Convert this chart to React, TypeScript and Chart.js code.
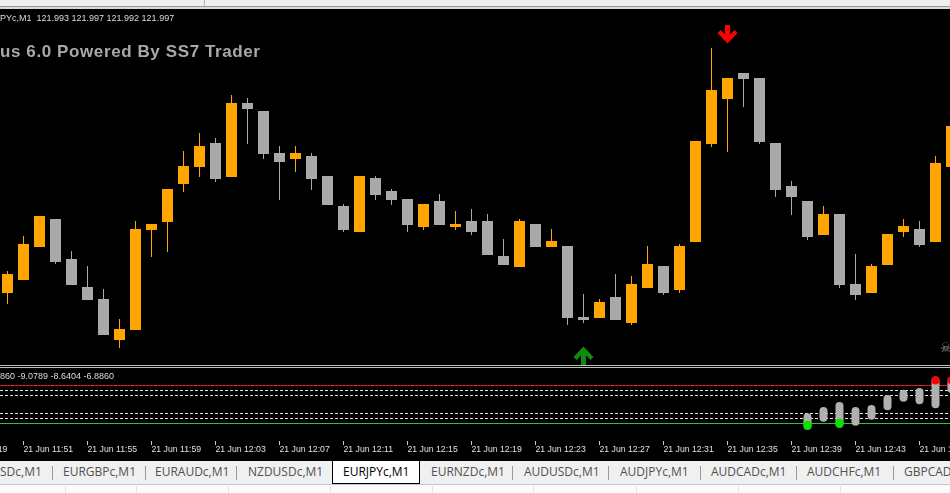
import React, { useEffect, useRef } from 'react';
import { Chart, registerables } from 'chart.js';

Chart.register(...registerables);

// ---------------- data ----------------
const barTimes = [
  '11:50', '11:51', '11:52', '11:53', '11:54', '11:55', '11:56', '11:57', '11:58', '11:59',
  '12:00', '12:01', '12:02', '12:03', '12:04', '12:05', '12:06', '12:07', '12:08', '12:09',
  '12:10', '12:11', '12:12', '12:13', '12:14', '12:15', '12:16', '12:17', '12:18', '12:19',
  '12:20', '12:21', '12:22', '12:23', '12:24', '12:25', '12:26', '12:27', '12:28', '12:29',
  '12:30', '12:31', '12:32', '12:33', '12:34', '12:35', '12:36', '12:37', '12:38', '12:39',
  '12:40', '12:41', '12:42', '12:43', '12:44', '12:45', '12:46', '12:47', '12:48', '12:49',
];

const opens = [
  121.823, 121.836, 121.869, 121.897, 121.857, 121.829, 121.817, 121.776, 121.786, 121.886,
  121.894, 121.932, 121.949, 121.973, 121.939, 122.013, 122.005, 121.963, 121.957, 121.960,
  121.940, 121.910, 121.884, 121.938, 121.925, 121.917, 121.889, 121.915, 121.889, 121.895,
  121.895, 121.860, 121.849, 121.892, 121.869, 121.870, 121.799, 121.798, 121.819, 121.793,
  121.828, 121.850, 121.826, 121.874, 121.972, 122.017, 122.043, 122.038, 121.973, 121.930,
  121.915, 121.881, 121.902, 121.832, 121.823, 121.851, 121.884, 121.887, 121.874, 121.949,
];
const highs = [
  121.845, 121.880, 121.900, 121.897, 121.865, 121.850, 121.827, 121.797, 121.895, 121.892,
  121.927, 121.965, 121.983, 121.978, 122.021, 122.018, 122.005, 121.970, 121.970, 121.963,
  121.940, 121.912, 121.940, 121.940, 121.927, 121.917, 121.912, 121.922, 121.905, 121.907,
  121.902, 121.877, 121.897, 121.892, 121.887, 121.870, 121.822, 121.817, 121.842, 121.840,
  121.870, 121.850, 121.872, 121.975, 122.068, 122.038, 122.043, 122.038, 121.973, 121.935,
  121.915, 121.910, 121.902, 121.862, 121.852, 121.882, 121.897, 121.895, 121.960, 121.992,
];
const lows = [
  121.812, 121.836, 121.869, 121.852, 121.831, 121.816, 121.781, 121.768, 121.786, 121.859,
  121.864, 121.924, 121.939, 121.934, 121.939, 121.972, 121.957, 121.916, 121.944, 121.926,
  121.911, 121.884, 121.884, 121.916, 121.911, 121.884, 121.886, 121.891, 121.886, 121.881,
  121.861, 121.851, 121.849, 121.869, 121.869, 121.791, 121.793, 121.798, 121.796, 121.791,
  121.828, 121.821, 121.823, 121.874, 121.969, 121.964, 122.009, 121.972, 121.919, 121.901,
  121.876, 121.881, 121.828, 121.816, 121.823, 121.851, 121.879, 121.869, 121.874, 121.949,
];
const closes = [
  121.842, 121.872, 121.900, 121.854, 121.831, 121.816, 121.781, 121.787, 121.887, 121.892,
  121.927, 121.950, 121.970, 121.937, 122.013, 122.007, 121.962, 121.954, 121.963, 121.937,
  121.911, 121.886, 121.940, 121.921, 121.916, 121.891, 121.912, 121.891, 121.892, 121.884,
  121.861, 121.851, 121.895, 121.869, 121.875, 121.798, 121.796, 121.814, 121.796, 121.832,
  121.852, 121.823, 121.870, 121.975, 122.026, 122.038, 122.037, 121.974, 121.926, 121.919,
  121.879, 121.902, 121.831, 121.821, 121.850, 121.882, 121.890, 121.871, 121.953, 121.990,
];

// signal arrows of the main window
const sellArrowTimes = ['12:35'];
const sellArrowPrices = [122.0815];
const buyArrowTimes = ['12:26'];
const buyArrowPrices = [121.762];

// sub-window indicator
const indTimes = ['12:40', '12:41', '12:42', '12:43', '12:44', '12:45', '12:46', '12:47', '12:48', '12:49'];
const indHigh = [-4.4, -1.25, 1.25, -1.25, -0.25, 4.75, 7.4, 8.3, 14.0, 14.0];
const indLow = [-12.6, -8.6, -11.6, -10.6, -7.6, -2.9, 1.4, 0.1, -1.9, 5.75];
const buySignalTimes = ['12:40', '12:42'];
const sellSignalTimes = ['12:48', '12:49'];
const levelRed = [9.5];
const levelDashed = [7, 4.5, -4.5, -7];
const levelGreen = [-9.5];

// time axis
const tickTimes = ['11:47', '11:51', '11:55', '11:59', '12:03', '12:07', '12:11', '12:15',
  '12:19', '12:23', '12:27', '12:31', '12:35', '12:39', '12:43', '12:47'];
const tickLabels = ['21 Jun 2019', '21 Jun 11:51', '21 Jun 11:55', '21 Jun 11:59', '21 Jun 12:03',
  '21 Jun 12:07', '21 Jun 12:11', '21 Jun 12:15', '21 Jun 12:19', '21 Jun 12:23', '21 Jun 12:27',
  '21 Jun 12:31', '21 Jun 12:35', '21 Jun 12:39', '21 Jun 12:43', '21 Jun 12:47'];

const headerText = 'PYc,M1  121.993 121.997 121.992 121.997';
const titleText = 'us 6.0 Powered By SS7 Trader';
const indHeaderText = '860 -9.0789 -8.6404 -6.8860';
const tabLabels = ['SDc,M1', 'EURGBPc,M1', 'EURAUDc,M1', 'NZDUSDc,M1', 'EURJPYc,M1', 'EURNZDc,M1',
  'AUDUSDc,M1', 'AUDJPYc,M1', 'AUDCADc,M1', 'AUDCHFc,M1', 'GBPCADc,M1'];
const activeTab = 'EURJPYc,M1';

// ---------------- view settings ----------------
const W = 950;
const MAIN_H = 355;
const IND_H = 93;
const PX_PER_BAR = 16;
const toMin = (t: string) => {
  const [h, m] = t.split(':').map(Number);
  return h * 60 + m;
};
const X_MIN = toMin(barTimes[0]) - 7.5 / PX_PER_BAR;
const X_MAX = X_MIN + W / PX_PER_BAR;
const PRICE_MAX = 122.106;
const PRICE_MIN = PRICE_MAX - MAIN_H / 1000;
const IND_MAX = 18.25;
const IND_MIN = -18.25;

const ORANGE = '#ffa500';
const GRAY = '#a9a9a9';
const tickMins = tickTimes.map(toMin);
const tabLefts = [0, 63, 155, 248, 343, 431, 524, 620, 711, 807, 904];
const tabSeps = [52, 145, 236, 512, 608, 700, 796, 893];
const bottomSeps = [65, 136, 228, 330, 432, 533, 636, 738, 840];

function makeArrow(up: boolean, color: string): HTMLCanvasElement {
  const c = document.createElement('canvas');
  const w = 21;
  const h = up ? 22 : 19;
  c.width = w;
  c.height = h;
  const ctx = c.getContext('2d')!;
  ctx.fillStyle = color;
  const fy = (y: number) => (up ? h - y : y);
  if (up) ctx.fillRect(8, h - 13, 5, 13);
  else ctx.fillRect(8, 0, 5, 12);
  const pts: [number, number][] = [[0.5, 8], [3.5, 5], [10.5, 12], [17.5, 5], [20.5, 8], [10.5, 18.5]];
  ctx.beginPath();
  pts.forEach(([x, y], i) => (i ? ctx.lineTo(x, fy(y)) : ctx.moveTo(x, fy(y))));
  ctx.closePath();
  ctx.fill();
  return c;
}

const baseOpts = {
  animation: false as const,
  responsive: false,
  maintainAspectRatio: false,
  devicePixelRatio: 1,
  events: [] as any[],
  layout: { padding: 0, autoPadding: false },
  plugins: { legend: { display: false }, tooltip: { enabled: false }, title: { display: false } },
};

export default function App() {
  const mainRef = useRef<HTMLCanvasElement>(null);
  const indRef = useRef<HTMLCanvasElement>(null);

  useEffect(() => {
    document.body.style.margin = '0';
    const colors = closes.map((c, i) => (c >= opens[i] ? ORANGE : GRAY));
    const xs = barTimes.map(toMin);

    const main = new Chart(mainRef.current!, {
      type: 'bar',
      data: {
        datasets: [
          {
            type: 'line',
            data: sellArrowTimes.map((t, i) => ({ x: toMin(t), y: sellArrowPrices[i] })),
            showLine: false,
            pointStyle: makeArrow(false, '#ff0000') as any,
            pointRadius: 10,
            order: 0,
            clip: false as any,
          },
          {
            type: 'line',
            data: buyArrowTimes.map((t, i) => ({ x: toMin(t), y: buyArrowPrices[i] })),
            showLine: false,
            pointStyle: makeArrow(true, '#0f8a0f') as any,
            pointRadius: 10,
            order: 0,
            clip: false as any,
          },
          {
            type: 'bar',
            data: xs.map((x, i) => ({ x, y: [opens[i], closes[i]] })) as any,
            backgroundColor: colors,
            barThickness: 11,
            grouped: false,
            borderWidth: 0,
            inflateAmount: 0,
            order: 1,
          },
          {
            type: 'bar',
            data: xs.map((x, i) => ({ x, y: [lows[i], highs[i]] })) as any,
            backgroundColor: colors,
            barThickness: 1,
            grouped: false,
            borderWidth: 0,
            inflateAmount: 0,
            order: 2,
          },
        ] as any,
      },
      options: {
        ...baseOpts,
        scales: {
          x: { type: 'linear', min: X_MIN, max: X_MAX, bounds: 'data', offset: false, display: false },
          y: { type: 'linear', min: PRICE_MIN, max: PRICE_MAX, bounds: 'data', display: false },
        },
      } as any,
    });

    const lineDs = (v: number, color: string, dash: number[]) => ({
      type: 'line',
      data: [{ x: X_MIN, y: v }, { x: X_MAX, y: v }],
      borderColor: color,
      borderWidth: 1,
      borderDash: dash,
      pointRadius: 0,
      order: 5,
    });

    const ind = new Chart(indRef.current!, {
      type: 'bar',
      data: {
        datasets: [
          ...levelRed.map((v) => lineDs(v, '#d02020', [])),
          ...levelDashed.map((v) => lineDs(v, '#e6e6e6', [3, 2])),
          ...levelGreen.map((v) => lineDs(v, '#33c033', [])),
          {
            type: 'bar',
            data: indTimes.map((t, i) => ({ x: toMin(t), y: [indLow[i], indHigh[i]] })),
            backgroundColor: '#b0b0b0',
            barThickness: 8,
            grouped: false,
            borderWidth: 0,
            borderRadius: 4,
            borderSkipped: false,
            inflateAmount: 0,
            order: 2,
          },
          {
            type: 'bar',
            data: buySignalTimes.map((t) => {
              const i = indTimes.indexOf(t);
              return { x: toMin(t), y: [indLow[i], indLow[i] + 4.5] };
            }),
            backgroundColor: '#00e600',
            barThickness: 8,
            grouped: false,
            borderWidth: 0,
            borderRadius: 4,
            borderSkipped: false,
            inflateAmount: 0,
            order: 1,
          },
          {
            type: 'bar',
            data: sellSignalTimes.map((t) => {
              const i = indTimes.indexOf(t);
              return { x: toMin(t), y: [indHigh[i] - 4, indHigh[i]] };
            }),
            backgroundColor: '#ff0000',
            barThickness: 8,
            grouped: false,
            borderWidth: 0,
            borderRadius: 4,
            borderSkipped: false,
            inflateAmount: 0,
            order: 1,
          },
        ] as any,
      },
      options: {
        ...baseOpts,
        scales: {
          x: {
            type: 'linear',
            min: X_MIN,
            max: X_MAX,
            bounds: 'data',
            offset: false,
            display: true,
            position: 'bottom',
            border: { display: false },
            grid: {
              display: true,
              offset: false,
              drawOnChartArea: false,
              drawTicks: true,
              tickLength: 4,
              color: '#c8c8c8',
            },
            afterBuildTicks: (scale: any) => {
              scale.ticks = tickMins.map((v) => ({ value: v }));
            },
            afterFit: (scale: any) => {
              scale.paddingLeft = 0;
              scale.paddingRight = 0;
              scale.height = 20;
            },
            ticks: {
              autoSkip: false,
              maxRotation: 0,
              minRotation: 0,
              align: 'start',
              padding: 0,
              color: '#e0e0e0',
              font: { family: '"Liberation Sans", Arial, sans-serif', size: 8.7, lineHeight: 1 },
              callback: (value: number) => {
                const k = tickMins.indexOf(value);
                return k >= 0 ? tickLabels[k] : '';
              },
            },
          },
          y: { type: 'linear', min: IND_MIN, max: IND_MAX, bounds: 'data', display: false },
        },
      } as any,
    });

    return () => {
      main.destroy();
      ind.destroy();
    };
  }, []);

  const abs = (s: React.CSSProperties): React.CSSProperties => ({ position: 'absolute', ...s });
  const sans = '"Liberation Sans", Arial, sans-serif';

  return (
    <div
      style={{
        position: 'fixed',
        left: 0,
        top: 0,
        width: W,
        height: 493,
        overflow: 'hidden',
        background: '#000',
        fontFamily: sans,
      }}
    >
      {/* window top strip */}
      <div style={abs({ left: 0, top: 0, width: W, height: 6, background: '#f0f0f0' })} />
      <div style={abs({ left: 204, top: 0, width: 1, height: 6, background: '#b4b4b4' })} />
      <div style={abs({ left: 0, top: 6, width: W, height: 1, background: '#9a9a9a' })} />
      <div style={abs({ left: 0, top: 7, width: W, height: 2, background: '#d8d8d8' })} />

      {/* main window */}
      <canvas ref={mainRef} width={W} height={MAIN_H} style={abs({ left: 0, top: 10, display: 'block' })} />
      <div
        style={abs({
          left: 0,
          top: 14,
          fontSize: 9,
          lineHeight: '9px',
          color: '#dcdcdc',
          whiteSpace: 'pre',
        })}
      >
        {headerText}
      </div>
      <div
        style={abs({
          left: 0,
          top: 43,
          fontSize: 17,
          lineHeight: '17px',
          fontWeight: 'bold',
          letterSpacing: 0.6,
          color: '#a9a9a9',
          whiteSpace: 'pre',
        })}
      >
        {titleText}
      </div>
      <div
        style={abs({
          left: 940,
          top: 341,
          fontSize: 13,
          lineHeight: '13px',
          color: '#8a8a8a',
          fontFamily: '"DejaVu Sans", sans-serif',
        })}
      >
        ☠
      </div>

      {/* window separators */}
      <div style={abs({ left: 0, top: 365, width: W, height: 1, background: '#bdbdbd' })} />
      <div style={abs({ left: 0, top: 367, width: W, height: 1, background: '#bdbdbd' })} />

      {/* indicator window */}
      <canvas ref={indRef} width={W} height={IND_H} style={abs({ left: 0, top: 368, display: 'block' })} />
      <div
        style={abs({
          left: 0,
          top: 372,
          fontSize: 9,
          lineHeight: '9px',
          color: '#dcdcdc',
          whiteSpace: 'pre',
        })}
      >
        {indHeaderText}
      </div>

      {/* tab strip */}
      <div style={abs({ left: 0, top: 461, width: W, height: 23, background: '#f0f0f0' })} />
      <div style={abs({ left: 0, top: 484, width: W, height: 1, background: '#c8c8c8' })} />
      <div style={abs({ left: 0, top: 485, width: W, height: 8, background: '#fbfbfb' })} />
      {bottomSeps.map((x) => (
        <div key={'b' + x} style={abs({ left: x, top: 486, width: 1, height: 7, background: '#e2e2e2' })} />
      ))}
      {tabSeps.map((x) => (
        <div key={'s' + x} style={abs({ left: x, top: 466, width: 1, height: 14, background: '#9a9a9a' })} />
      ))}
      <div
        style={abs({
          left: 332,
          top: 461,
          width: 86,
          height: 22,
          background: '#fff',
          borderLeft: '1px solid #000',
          borderRight: '1px solid #000',
          borderBottom: '1px solid #000',
        })}
      />
      {tabLabels.map((t, i) => (
        <div
          key={t}
          style={abs({
            left: tabLefts[i],
            top: 466,
            fontFamily: '"Open Sans", sans-serif',
            fontSize: 12,
            lineHeight: '12px',
            color: t === activeTab ? '#000' : '#505050',
            whiteSpace: 'pre',
          })}
        >
          {t}
        </div>
      ))}
    </div>
  );
}
